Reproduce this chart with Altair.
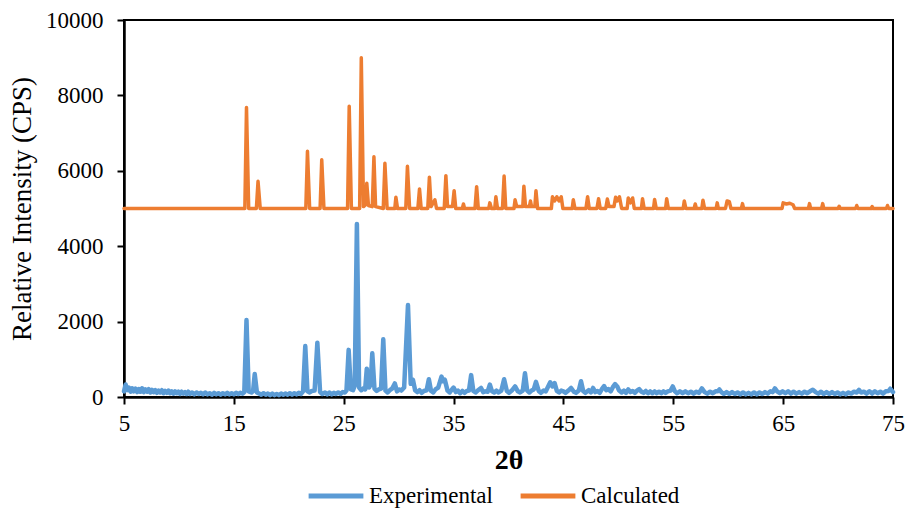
import altair as alt
import pandas as pd

# ---- Calculated pattern (2θ, CPS; offset by +5000) ----
calc_points = [
    (5.0, 5000), (16.0, 5000), (16.15, 7680), (16.35, 5000), (17.05, 5000), (17.2, 5720), (17.4, 5000),
    (21.55, 5000), (21.7, 6520), (21.9, 5000), (22.85, 5000), (23.0, 6290), (23.2, 5000),
    (25.35, 5000), (25.5, 7710), (25.7, 5000), (26.45, 5000), (26.6, 9000), (26.8, 5050),
    (27.0, 5100), (27.1, 5670), (27.25, 5080), (27.6, 5050), (27.75, 6370), (27.9, 5050),
    (28.6, 5000), (28.75, 6200), (28.95, 5000), (29.65, 5000), (29.75, 5300), (29.9, 5000),
    (30.65, 5000), (30.8, 6120), (31.0, 5000), (31.75, 5000), (31.9, 5520), (32.05, 5000),
    (32.65, 5000), (32.8, 5830), (32.95, 5050), (33.3, 5230), (33.45, 5000),
    (34.15, 5000), (34.3, 5870), (34.45, 5050), (34.9, 5050), (35.05, 5470), (35.2, 5000),
    (35.8, 5000), (35.9, 5120), (36.0, 5000), (36.95, 5000), (37.1, 5580), (37.25, 5000),
    (38.2, 5000), (38.3, 5150), (38.45, 5000), (38.75, 5000), (38.85, 5310), (39.0, 5000),
    (39.45, 5000), (39.6, 5860), (39.75, 5000), (40.5, 5000), (40.6, 5230), (40.75, 5050),
    (41.3, 5050), (41.4, 5590), (41.55, 5050), (41.9, 5050), (42.0, 5200), (42.1, 5050),
    (42.4, 5050), (42.5, 5470), (42.65, 5000), (43.9, 5000), (44.0, 5310), (44.2, 5200),
    (44.4, 5310), (44.6, 5200), (44.8, 5310), (44.95, 5000), (45.8, 5000), (45.9, 5230), (46.05, 5000),
    (47.05, 5000), (47.2, 5310), (47.35, 5000), (48.05, 5000), (48.2, 5260), (48.35, 5000),
    (48.85, 5000), (49.0, 5250), (49.15, 5050), (49.6, 5050), (49.75, 5300), (49.9, 5200),
    (50.1, 5310), (50.3, 5000), (50.8, 5000), (50.9, 5280), (51.1, 5150), (51.3, 5280), (51.45, 5000),
    (52.1, 5000), (52.2, 5260), (52.35, 5000), (53.2, 5000), (53.3, 5240), (53.45, 5000),
    (54.3, 5000), (54.4, 5260), (54.55, 5000), (55.9, 5000), (56.0, 5200), (56.15, 5000),
    (56.9, 5000), (57.0, 5120), (57.1, 5000), (57.6, 5000), (57.7, 5220), (57.85, 5000),
    (58.9, 5000), (59.0, 5150), (59.1, 5000), (59.75, 5000), (59.9, 5200), (60.1, 5180), (60.25, 5000),
    (61.2, 5000), (61.3, 5130), (61.4, 5000), (64.9, 5000), (65.0, 5150), (65.3, 5120),
    (65.6, 5140), (65.9, 5100), (66.05, 5000), (67.3, 5000), (67.4, 5130), (67.5, 5000),
    (68.5, 5000), (68.6, 5130), (68.7, 5000), (70.0, 5000), (70.1, 5060), (70.2, 5000),
    (71.6, 5000), (71.7, 5080), (71.8, 5000), (73.0, 5000), (73.1, 5050), (73.2, 5000),
    (74.4, 5000), (74.5, 5080), (74.6, 5000), (75.0, 5000),
]

# ---- Experimental pattern (2θ, CPS) ----
exp_points = [
    (5.0, 150), (5.15, 330), (5.3, 180), (5.45, 250), (5.6, 140), (5.75, 230), (5.9, 150), (6.05, 220),
    (6.2, 130), (6.35, 210), (6.5, 140), (6.65, 230), (6.8, 130), (6.95, 200), (7.1, 140), (7.25, 210),
    (7.4, 120), (7.55, 190), (7.7, 130), (7.85, 180), (8.0, 110), (8.15, 170), (8.3, 120), (8.45, 180),
    (8.6, 100), (8.75, 160), (8.9, 110), (9.05, 170), (9.2, 100), (9.35, 150), (9.5, 90), (9.65, 150),
    (9.8, 100), (9.95, 140), (10.1, 80), (10.25, 140), (10.4, 90), (10.55, 130), (10.7, 80), (10.85, 140),
    (11.0, 80), (11.2, 120), (11.4, 70), (11.6, 120), (11.8, 80), (12.0, 110), (12.2, 70), (12.4, 120),
    (12.6, 70), (12.8, 100), (13.0, 60), (13.2, 110), (13.4, 70), (13.6, 100), (13.8, 60), (14.0, 100),
    (14.2, 70), (14.4, 110), (14.6, 70), (14.8, 100), (15.0, 70), (15.2, 110), (15.4, 80), (15.6, 110),
    (15.8, 90), (15.95, 130), (16.15, 2040), (16.35, 150), (16.6, 120), (16.75, 160), (16.9, 610),
    (17.1, 120), (17.3, 90), (17.5, 60), (17.7, 100), (17.9, 60), (18.1, 90), (18.3, 50), (18.5, 90),
    (18.7, 50), (18.9, 80), (19.1, 50), (19.3, 90), (19.5, 60), (19.7, 90), (19.9, 60), (20.1, 100),
    (20.3, 60), (20.5, 100), (20.7, 70), (20.9, 110), (21.1, 80), (21.3, 150), (21.5, 1350), (21.7, 150),
    (21.9, 120), (22.1, 160), (22.35, 170), (22.6, 1440), (22.85, 130), (23.05, 80), (23.3, 120),
    (23.5, 70), (23.7, 120), (23.9, 70), (24.1, 110), (24.3, 80), (24.5, 120), (24.7, 80), (24.9, 130),
    (25.1, 120), (25.25, 170), (25.45, 1250), (25.65, 200), (25.85, 180), (26.0, 300), (26.2, 4590),
    (26.4, 250), (26.6, 180), (26.8, 230), (26.95, 200), (27.1, 750), (27.3, 250), (27.45, 330),
    (27.6, 1160), (27.8, 220), (28.0, 160), (28.2, 200), (28.4, 220), (28.6, 1530), (28.8, 170),
    (29.0, 120), (29.2, 180), (29.4, 220), (29.65, 360), (29.85, 150), (30.05, 200), (30.25, 170),
    (30.5, 250), (30.85, 2440), (31.1, 350), (31.3, 460), (31.5, 180), (31.7, 130), (31.9, 180),
    (32.1, 110), (32.3, 160), (32.55, 180), (32.75, 470), (32.95, 160), (33.15, 120), (33.35, 200),
    (33.6, 250), (33.9, 540), (34.05, 420), (34.2, 460), (34.45, 170), (34.65, 120), (34.85, 200),
    (35.0, 250), (35.2, 130), (35.4, 170), (35.6, 100), (35.8, 160), (36.0, 110), (36.2, 160),
    (36.4, 170), (36.6, 580), (36.8, 160), (37.0, 120), (37.2, 170), (37.5, 240), (37.7, 130),
    (37.9, 150), (38.1, 140), (38.3, 330), (38.5, 150), (38.7, 120), (38.9, 170), (39.1, 120),
    (39.35, 170), (39.6, 470), (39.85, 160), (40.05, 110), (40.3, 170), (40.6, 280), (40.85, 150),
    (41.05, 120), (41.3, 170), (41.5, 630), (41.7, 170), (41.9, 120), (42.1, 170), (42.3, 200),
    (42.5, 400), (42.75, 160), (42.95, 110), (43.2, 170), (43.4, 150), (43.8, 390), (44.0, 280),
    (44.2, 370), (44.4, 160), (44.6, 120), (44.8, 170), (45.0, 150), (45.2, 110), (45.45, 170),
    (45.7, 240), (45.95, 140), (46.15, 110), (46.4, 170), (46.6, 420), (46.8, 160), (47.0, 110),
    (47.3, 180), (47.5, 120), (47.7, 240), (47.9, 130), (48.1, 160), (48.3, 110), (48.5, 210),
    (48.7, 290), (48.9, 180), (49.1, 210), (49.3, 150), (49.5, 260), (49.7, 340), (49.9, 280),
    (50.05, 180), (50.3, 120), (50.5, 170), (50.7, 110), (50.9, 200), (51.1, 130), (51.3, 160),
    (51.5, 110), (51.7, 170), (51.9, 210), (52.1, 140), (52.3, 110), (52.5, 160), (52.7, 100),
    (52.9, 150), (53.1, 100), (53.3, 150), (53.5, 100), (53.7, 140), (53.9, 100), (54.1, 150),
    (54.3, 110), (54.5, 150), (54.75, 170), (54.95, 280), (55.15, 150), (55.35, 100), (55.6, 150),
    (55.85, 100), (56.1, 150), (56.35, 100), (56.6, 140), (56.85, 90), (57.1, 140), (57.35, 110),
    (57.6, 230), (57.85, 130), (58.1, 90), (58.35, 140), (58.6, 100), (58.85, 150), (59.05, 150),
    (59.2, 200), (59.4, 120), (59.6, 80), (59.85, 130), (60.1, 80), (60.35, 130), (60.6, 80),
    (60.85, 120), (61.1, 70), (61.35, 120), (61.6, 70), (61.85, 110), (62.1, 70), (62.35, 120),
    (62.6, 70), (62.85, 120), (63.1, 80), (63.35, 130), (63.6, 90), (63.85, 150), (64.05, 130),
    (64.25, 230), (64.45, 150), (64.7, 100), (64.95, 150), (65.2, 100), (65.45, 150), (65.7, 90),
    (65.95, 140), (66.2, 90), (66.45, 130), (66.7, 90), (66.95, 140), (67.2, 100), (67.45, 150),
    (67.7, 190), (67.95, 130), (68.2, 90), (68.45, 140), (68.7, 80), (68.95, 130), (69.2, 80),
    (69.45, 130), (69.7, 80), (69.95, 120), (70.2, 70), (70.45, 110), (70.7, 70), (70.95, 120),
    (71.2, 90), (71.45, 140), (71.7, 120), (71.9, 190), (72.1, 120), (72.35, 140), (72.6, 90),
    (72.85, 150), (73.1, 90), (73.35, 150), (73.6, 100), (73.85, 140), (74.1, 90), (74.35, 150),
    (74.6, 160), (74.75, 220), (75.0, 130),
]

series_names = ["Experimental", "Calculated"]
series_colors = ["#5B9BD5", "#ED7D31"]
x_ticks = [5, 15, 25, 35, 45, 55, 65, 75]
y_ticks = [0, 2000, 4000, 6000, 8000, 10000]

df = pd.concat([
    pd.DataFrame({"x": [p[0] for p in exp_points], "y": [p[1] for p in exp_points],
                  "series": "Experimental", "ord": range(len(exp_points))}),
    pd.DataFrame({"x": [p[0] for p in calc_points], "y": [p[1] for p in calc_points],
                  "series": "Calculated", "ord": range(len(calc_points))}),
])

FONT = "Liberation Serif"

x_enc = alt.X("x:Q", scale=alt.Scale(domain=[5, 75], nice=False),
              axis=alt.Axis(values=x_ticks, title="2θ", titleFontWeight="bold",
                            titleFontSize=28, titlePadding=11, labelPadding=8,
                            grid=False, labelFlush=False))
y_enc = alt.Y("y:Q", scale=alt.Scale(domain=[0, 10000], nice=False),
              axis=alt.Axis(values=y_ticks, title="Relative Intensity (CPS)", format="d",
                            titleFontWeight="normal", titleFontSize=27, titlePadding=9,
                            labelPadding=14, grid=False))
color_enc = alt.Color("series:N",
                      scale=alt.Scale(domain=series_names, range=series_colors),
                      legend=alt.Legend(title=None, orient="none", direction="horizontal",
                                        legendX=182, legendY=446,
                                        symbolType="stroke", symbolSize=3000,
                                        symbolStrokeWidth=5, labelFontSize=23,
                                        labelFont=FONT, columnPadding=17, labelOffset=3,
                                        labelColor="black"))

exp_layer = alt.Chart(df).transform_filter(alt.datum.series == "Experimental").mark_line(
    strokeWidth=4.5, strokeJoin="round", strokeCap="round"
).encode(x=x_enc, y=y_enc, color=color_enc, order="ord:Q")
calc_layer = alt.Chart(df).transform_filter(alt.datum.series == "Calculated").mark_line(
    strokeWidth=3.5, strokeJoin="round", strokeCap="round"
).encode(x=x_enc, y=y_enc, color=color_enc, order="ord:Q")

chart = alt.layer(exp_layer, calc_layer).properties(
    width=769, height=377,
    autosize=alt.AutoSizeParams(type="none"),
    padding={"left": 124, "top": 20, "right": 13, "bottom": 112},
).configure_view(
    stroke="black", strokeWidth=2
).configure_axis(
    labelFont=FONT, titleFont=FONT, labelFontSize=23, labelColor="black",
    titleColor="black", domainColor="black", domainWidth=2.5,
    tickColor="black", tickWidth=2, tickSize=7
).configure_legend(labelFont=FONT)

chart.save("out.html", embed_options={"renderer": "svg", "actions": False})
